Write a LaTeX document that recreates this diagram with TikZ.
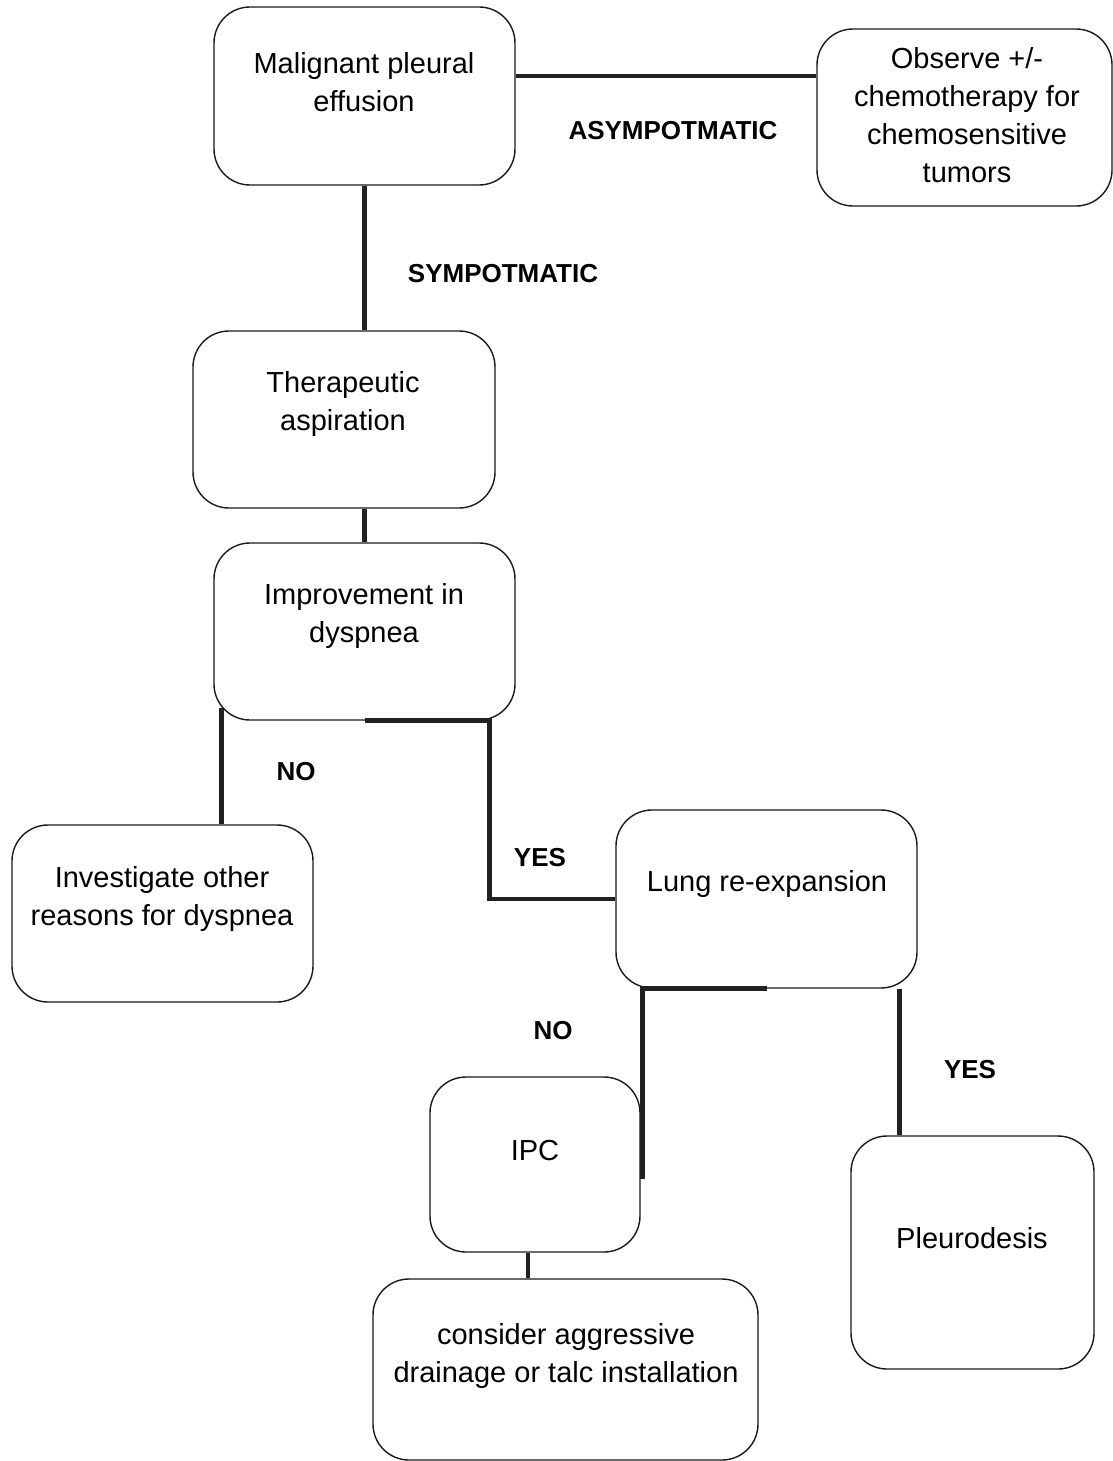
\documentclass[tikz,border=0pt]{standalone}
\usepackage{fontspec}
\setmainfont{Liberation Sans}
\usetikzlibrary{positioning,calc}

\tikzset{every picture/.style={line width=1.4pt}}
\tikzset{
  box/.style={draw=black!90, rounded corners=36pt, inner sep=0pt},
  txt/.style={align=center, inner sep=0pt, font=\fontsize{29}{38}\selectfont},
  lab/.style={inner sep=0pt, font=\fontsize{26}{31}\selectfont\bfseries},
  link/.style={draw=black!87, line width=4.8pt}
}

\begin{document}
\begin{tikzpicture}[x=1pt,y=1pt,yscale=-1,xscale=1]
\useasboundingbox (0,0) rectangle (1113,1461);

%Shape: Rounded Rect
\node [box, minimum width=301pt, minimum height=178pt] (mpe) at (364.5,96) {};
\node [box, minimum width=295pt, minimum height=177pt] (obs) at (964.5,117.5) {};
\node [box, minimum width=302pt, minimum height=177pt] (tha) at (344,419.5) {};
\node [box, minimum width=301pt, minimum height=177pt] (imp) at (364.5,631.5) {};
\node [box, minimum width=301pt, minimum height=177pt] (inv) at (162.5,913.5) {};
\node [box, minimum width=301pt, minimum height=178pt] (lung) at (766.5,899) {};
\node [box, minimum width=210pt, minimum height=175pt] (ipc) at (535,1164.5) {};
\node [box, minimum width=385pt, minimum height=181pt] (con) at (565.5,1369.5) {};
\node [box, minimum width=243pt, minimum height=233pt] (ple) at (972.5,1252.5) {};

% Text Node
\node [txt] (mpe-t) at (364,82) {Malignant pleural\\effusion};
\node [txt] (obs-t) at (967,115.5) {Observe +/-\\chemotherapy for\\chemosensitive\\tumors};
\node [txt] (tha-t) at (343,404) {Therapeutic\\aspiration};
\node [txt] (imp-t) at (364,616) {Improvement in\\dyspnea};
\node [txt] (inv-t) at (162,899) {Investigate other\\reasons for dyspnea};
\node [txt] (lung-t) at (767,884) {Lung re-expansion};
\node [txt] (ipc-t) at (535,1151) {IPC};
\node [txt] (con-t) at (566,1356) {consider aggressive\\drainage or talc installation};
\node [txt] (ple-t) at (972,1238) {Pleurodesis};

% Labels
\node [lab] (asym) at (673,131) {ASYMPOTMATIC};
\node [lab] (sym) at (503,274) {SYMPOTMATIC};
\node [lab] (no1) at (296,772) {NO};
\node [lab] (yes1) at (540,858) {YES};
\node [lab] (no2) at (553,1031) {NO};
\node [lab] (yes2) at (970,1070) {YES};

%Connectors
\draw [link] ([yshift=-20]mpe.east) -- ([yshift=-20]mpe.east -| obs.west);
\draw [link] (mpe.south) -- (mpe.south |- tha.north);
\draw [link] (imp.north) -- (imp.north |- tha.south);
\draw [link] ([xshift=8,yshift=-13]imp.south west) -- ([xshift=8]imp.south west |- inv.north);
\draw [link] (imp.south) -- ++(125,0) |- (lung.west);
\draw [link] (lung.south) -| ([xshift=2,yshift=14]ipc.east);
\draw [link] ([xshift=-18]lung.south east) -- ([xshift=-18]lung.south east |- ple.north);
\draw [link] ([xshift=-7]ipc.south) -- ([xshift=-7]ipc.south |- con.north);

\end{tikzpicture}
\end{document}
